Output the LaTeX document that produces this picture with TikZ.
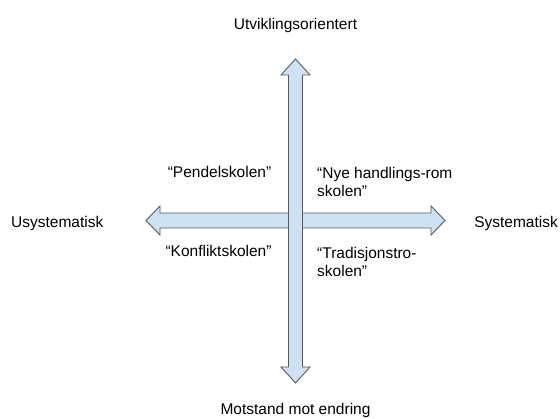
\documentclass[tikz,border=0pt]{standalone}
\usepackage{fontspec}
\setmainfont{Liberation Sans}
\definecolor{pilfyll}{HTML}{CFE2F3}
\definecolor{pilkant}{HTML}{595959}
\tikzset{
  pil/.style={draw=pilkant, fill=pilfyll, line width=0.9pt, line join=miter},
  etikett/.style={inner sep=0pt, font=\fontsize{15.5}{18}\selectfont},
}
\begin{document}
\begin{tikzpicture}[x=1pt, y=-1pt]
	\useasboundingbox (0,0) rectangle (560,419);
	% horisontal pil
	\coordinate (V) at (146, 220.5);
	\coordinate (H) at (445, 220.5);
	\draw[pil] (V) -- (160, 206) -- (160, 213) -- (431, 213) -- (431, 206)
		-- (H) -- (431, 235) -- (431, 228) -- (160, 228) -- (160, 235) -- cycle;
	% vertikal pil
	\coordinate (O) at (295.5, 59);
	\coordinate (N) at (295.5, 383);
	\draw[pil] (O) -- (310, 75) -- (302.5, 75) -- (302.5, 367) -- (310, 367)
		-- (N) -- (281, 367) -- (288.5, 367) -- (288.5, 75) -- (281, 75) -- cycle;
	
	\node[etikett, anchor=base] (utv) at (295.5, 30) {Utviklingsorientert};
	\node[etikett, anchor=base] (mot) at (295.5, 414.5) {Motstand mot endring};
	\node[etikett, anchor=base west] (usys) at (11, 228) {Usystematisk};
	\node[etikett, anchor=base east] (sys) at (558, 228) {Systematisk};
	
	\node[etikett, anchor=base] (pendel) at (219.5, 178) {“Pendelskolen”};
	\node[etikett, anchor=base] (konflikt) at (218.5, 257) {“Konfliktskolen”};
	\node[etikett, anchor=base west, align=left] (nye) at (317, 197) {“Nye handlings-rom\\skolen”};
	\node[etikett, anchor=base west, align=left] (trad) at (317, 277) {“Tradisjonstro-\\skolen”};
\end{tikzpicture}
\end{document}
